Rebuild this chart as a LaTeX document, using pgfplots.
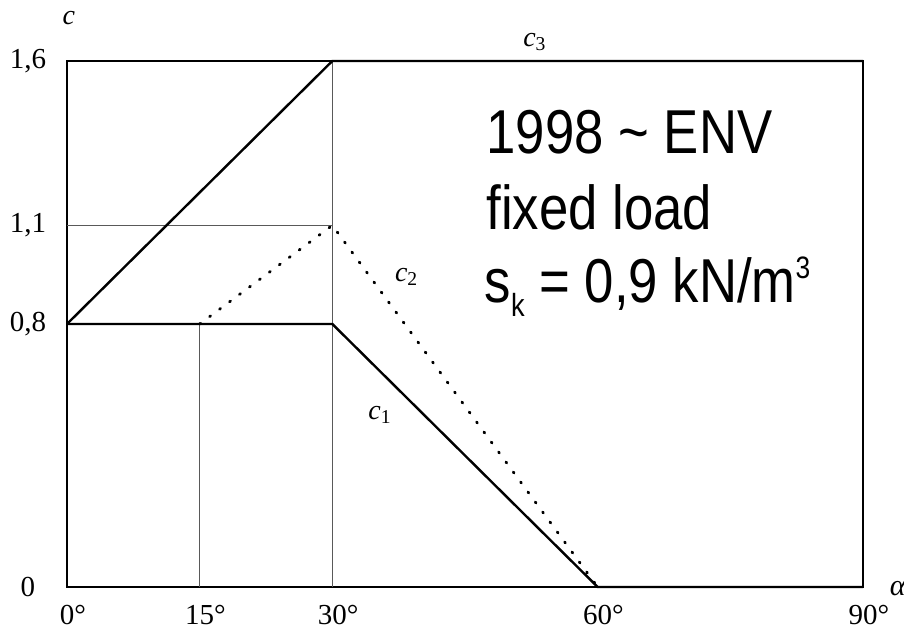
\documentclass[border=0pt]{standalone}
\usepackage{fontspec}
\setmainfont{Liberation Serif}
\newfontfamily\arial{Liberation Sans}
\usepackage{pgfplots}
\pgfplotsset{compat=1.18}
\newcommand{\bigtxt}[1]{\scalebox{0.85}[1]{\arial\fontsize{31}{37}\selectfont #1}}
\begin{document}
\begin{tikzpicture}
\begin{axis}[
  scale only axis, width=398pt, height=263pt,
  xmin=0, xmax=90, ymin=0, ymax=1.6,
  axis line style={line width=1pt, black},
  xtick={0,15,30,60,90},
  xticklabels={0\rlap{°},15\rlap{°},30\rlap{°},60\rlap{°},90\rlap{°}},
  ytick={0,0.8,1.1,1.6},
  yticklabels={0,{0,8},{1,1},{1,6}},
  major tick length=0pt,
  xticklabel style={anchor=center, yshift=-14pt, font=\fontsize{14.5}{16}\selectfont},
  yticklabel style={anchor=center, xshift=-19.5pt, font=\fontsize{14.5}{16}\selectfont},
  clip=false,
]
% thin construction lines
\addplot[gray!70!black, line width=0.5pt] coordinates {(15,0) (15,0.8)};
\addplot[gray!70!black, line width=0.5pt] coordinates {(30,0) (30,1.6)};
\addplot[gray!70!black, line width=0.5pt] coordinates {(0,1.1) (30,1.1)};
% c1
\addplot[black, line width=1.2pt] coordinates {(0,0.8) (30,0.8) (60,0) (90,0)};
% c3
\addplot[black, line width=1.2pt] coordinates {(0,0.8) (30,1.6) (90,1.6)};
% c2
\addplot[black, line width=1.4pt, line cap=round, dash pattern=on 0.6pt off 5.6pt] coordinates {(15,0.8) (30,1.1) (60,0)};
% labels
\node[font=\fontsize{14}{14}\selectfont\itshape] at (axis cs:0.2,1.731) {c};
\node[font=\fontsize{14}{14}\selectfont\itshape] at (axis cs:52.9,1.658) {c\textsubscript{\upshape 3}};
\node[font=\fontsize{14}{14}\selectfont\itshape] at (axis cs:38.4,0.943) {c\textsubscript{\upshape 2}};
\node[font=\fontsize{14}{14}\selectfont\itshape] at (axis cs:35.4,0.523) {c\textsubscript{\upshape 1}};
\node[font=\fontsize{15}{15}\selectfont\itshape, anchor=west, inner sep=0pt] at (axis cs:93.0,-0.005) {α};
\node[anchor=base west, inner sep=0pt] at (axis cs:47.4,1.320) {\bigtxt{1998 \textasciitilde{} ENV}};
\node[anchor=base west, inner sep=0pt] at (axis cs:47.4,1.086) {\bigtxt{fixed load}};
\node[anchor=base west, inner sep=0pt] at (axis cs:47.2,0.864) {\bigtxt{s\raisebox{-7pt}{\fontsize{16}{16}\selectfont k} = 0,9 kN/m\raisebox{12pt}{\fontsize{15.5}{15.5}\selectfont 3}}};
\coordinate (O) at (rel axis cs:0,0);
\coordinate (T) at (rel axis cs:1,1);
\end{axis}
\pgfresetboundingbox
\path[use as bounding box] ([shift={(-33.5pt,-23.5pt)}]O) rectangle ([shift={(20.5pt,30.5pt)}]T);
\end{tikzpicture}
\end{document}
